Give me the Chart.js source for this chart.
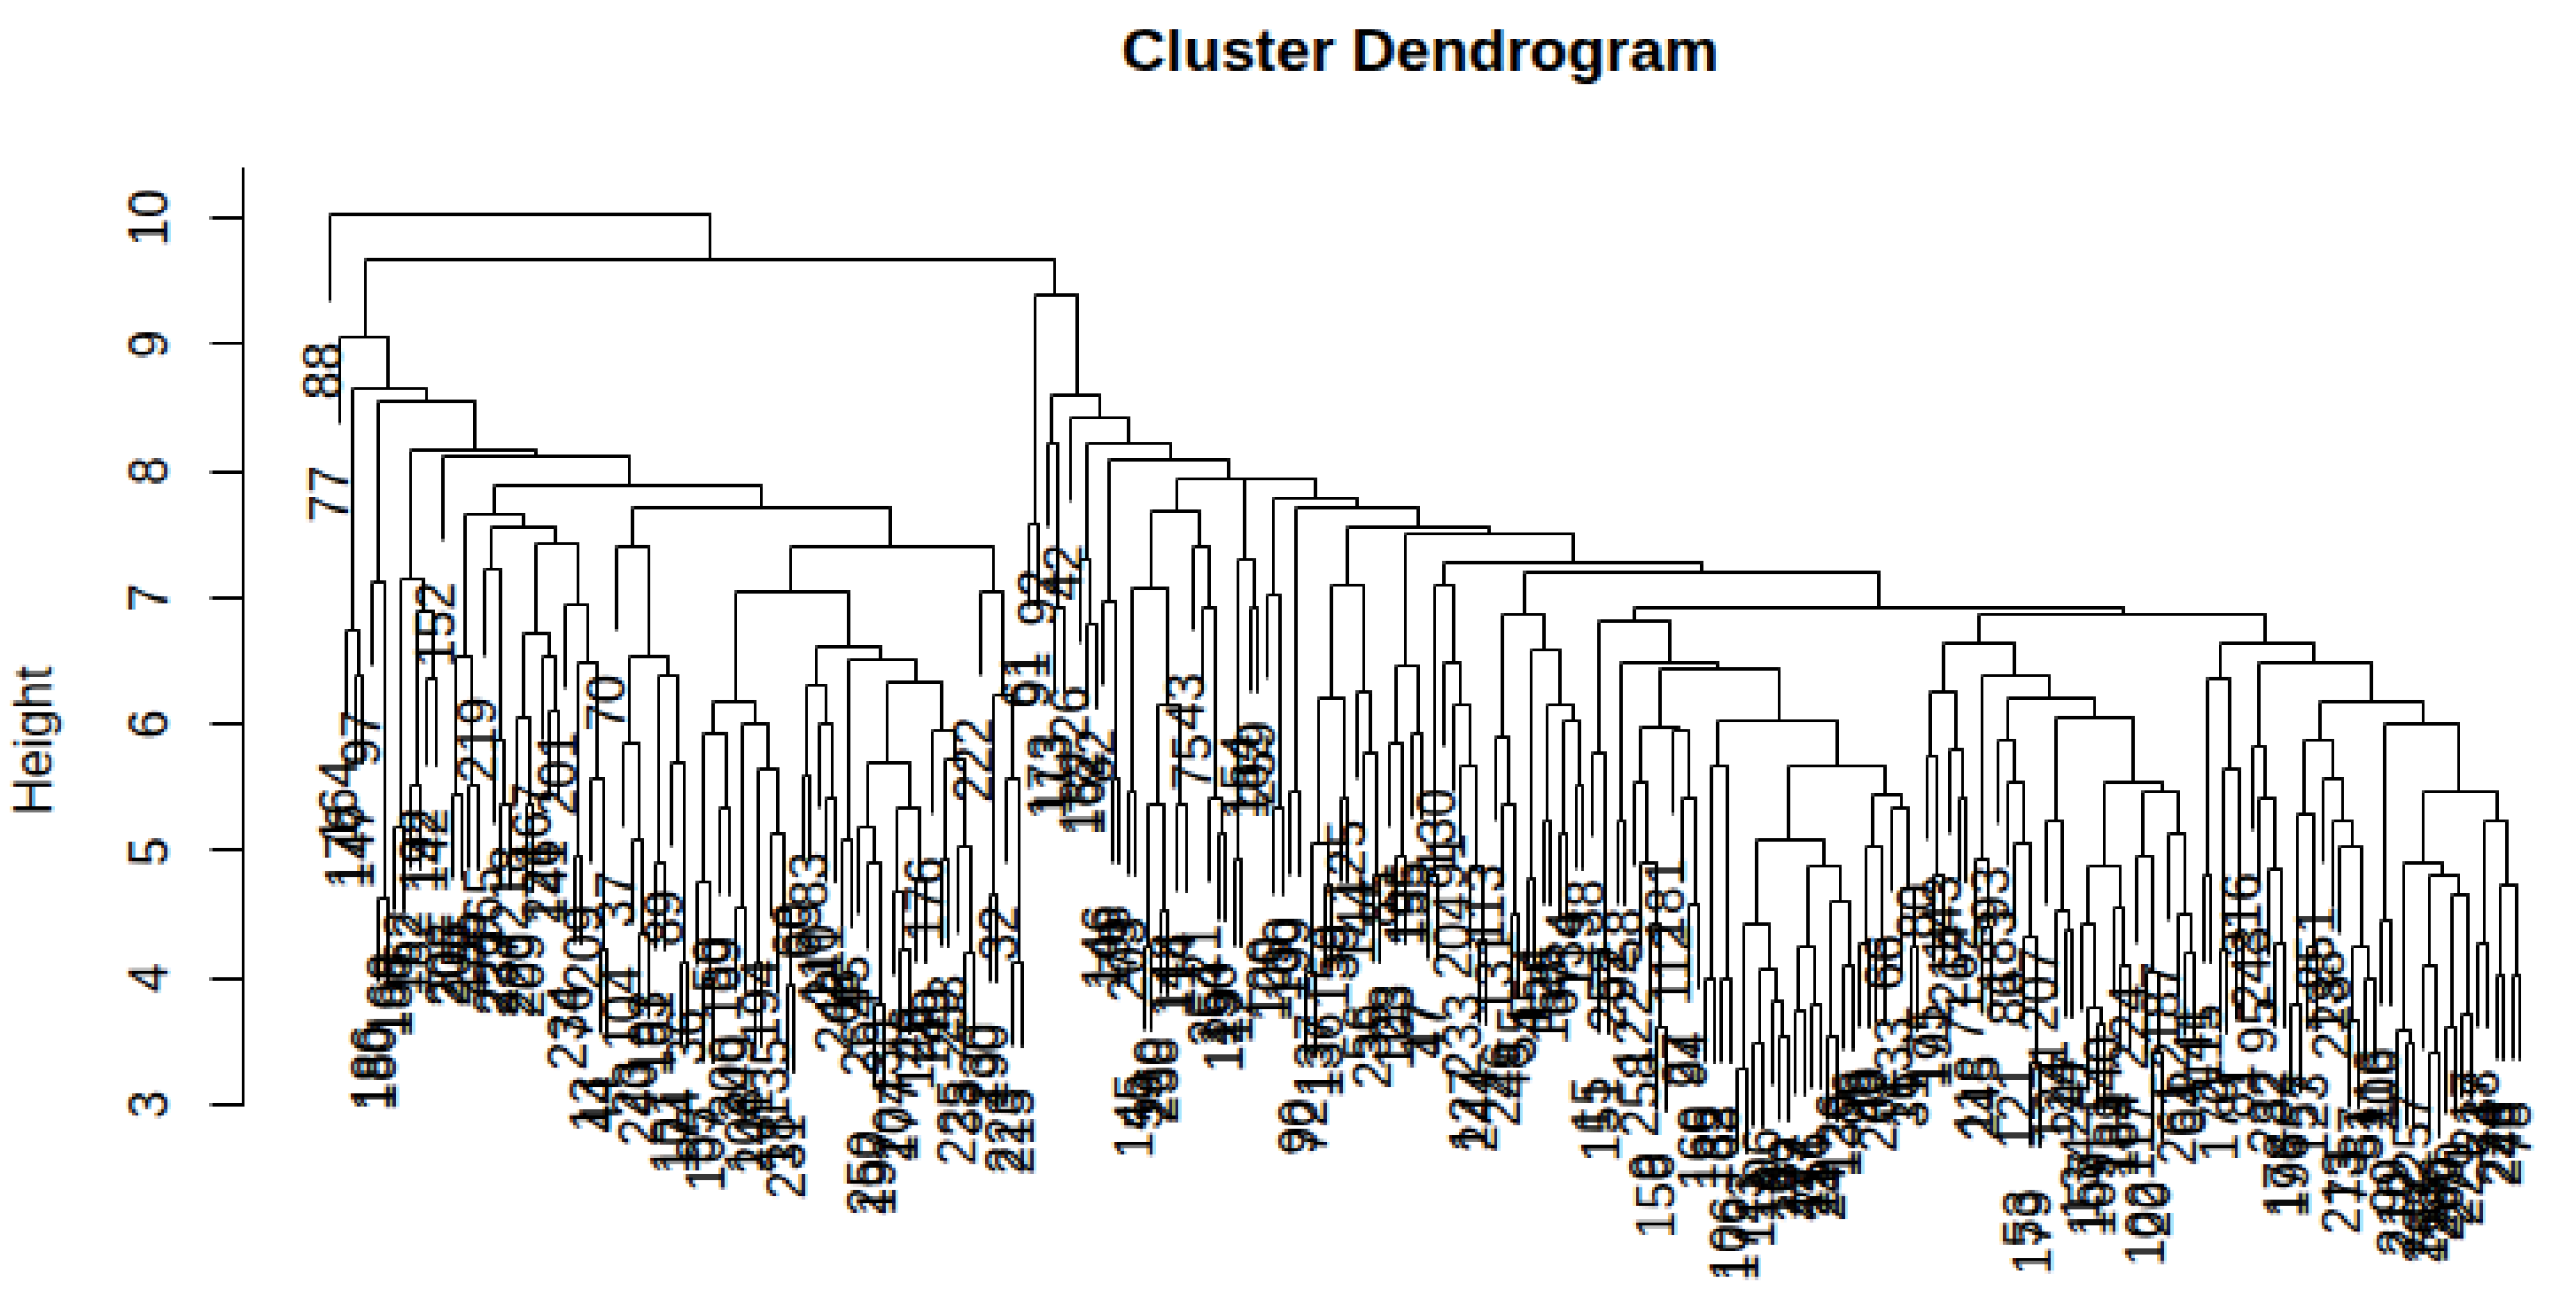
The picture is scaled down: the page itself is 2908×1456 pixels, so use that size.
<!DOCTYPE html>
<html>
<head>
<meta charset="utf-8">
<title>Cluster Dendrogram</title>
<script src="https://cdn.jsdelivr.net/npm/chart.js@4/dist/chart.umd.min.js"></script>
<style>
html,body{margin:0;padding:0;background:#fff;overflow:hidden;width:2908px;height:1456px}
#c{position:absolute;left:0;top:0;transform-origin:0 0;transform:scale(3.635,3.64);image-rendering:pixelated}
</style>
</head>
<body>
<canvas id="c" width="800" height="400"></canvas>
<script>
const chartTitle = 'Cluster Dendrogram';
const yAxisTitle = 'Height';
const yTickValues = [3,4,5,6,7,8,9,10];
const leafHang = 0.67;

// Leaf labels, left to right
const leafLabels = [
'88','77','164','176','147','97','186','180','168','188',
'162','182','192','142','152','208','205','255','185','219',
'165','229','237','218','220','209','167','226','141','201',
'234','76','209','13','44','70','37','104','23','240',
'193','161','89','101','174','36','35','107','50','169',
'200','249','108','241','194','135','18','231','60','65',
'83','110','211','242','68','45','264','250','197','30',
'204','177','46','128','176','149','29','253','225','33',
'222','230','190','32','223','215','61','91','92','173',
'113','42','26','182','162','82','146','198','79','203',
'145','59','260','238','148','114','43','75','21','254',
'150','129','12','154','162','259','120','105','100','199',
'90','72','137','136','159','39','125','144','56','235',
'85','28','103','195','155','17','47','130','91','204',
'233','127','244','113','131','246','48','55','4','154',
'25','158','67','34','119','38','15','151','252','92',
'58','122','258','9','156','181','112','27','94','160',
'5','132','63','106','172','3','111','96','8','10',
'49','227','171','256','11','24','126','139','6','98',
'40','202','66','133','16','31','80','175','191','143',
'214','62','71','118','245','93','183','86','121','53',
'179','207','1','124','14','247','134','157','109','140',
'189','184','224','117','102','20','187','52','261','64',
'41','115','2','170','7','81','216','243','95','232',
'82','178','196','57','123','251','138','228','213','73',
'87','51','116','206','99','210','212','257','263','153',
'236','269','270','221','217','38','74','226','248','78'
];

// Merge heights as nested branches: [height, left, right]; 0 is the next leaf.
const branchG1 = [6.73,0,[6.38,0,0]];
const branchG2 = [7.12,0,[4.63,0,0]];
const branchG3 = [7.15,[5.2,0,0],[6.9,[5.53,0,0],[6.35,0,0]]];
const branchG4 = [7.65,[6.55,[5.45,0,0],[5.53,0,0]],[7.55,[7.22,0,[5.88,0,[5.38,0,0]]],[7.43,[6.72,[6.05,0,[5.36,0,0]],[6.55,0,[6.1,0,0]]],[6.95,0,[6.5,[4.95,0,0],[5.58,0,[4.23,0,0]]]]]]];
const branchG5 = [7.40,0,[6.55,[5.85,0,[5.10,0,[4.35,0,0]]],[6.38,[4.9,0,0],[5.7,0,[4.13,0,0]]]]];
const branchG6 = [6.18,[5.93,[4.76,0,[3.99,0,0]],[5.33,0,0]],[6.0,[4.55,0,0],[5.66,[4.13,0,0],[5.15,0,[4.53,0,[3.93,0,0]]]]]];
const branchG7 = [6.61,[6.31,[5.6,0,0],[6.0,0,[5.43,0,0]]],[6.51,[5.08,0,0],[6.33,[5.70,[5.18,0,[4.9,0,[3.8,0,0]]],[5.35,[4.68,0,[4.22,0,0]],[4.78,0,0]]],[5.96,0,[5.73,[4.93,0,0],[5.03,0,[4.2,0,0]]]]]]];
const branchG8 = [7.40,[7.06,branchG6,branchG7],[7.06,0,[6.23,[4.65,0,0],[5.58,0,[4.13,0,0]]]]];
const branchA = [9.05,0,[8.65,branchG1,[8.54,branchG2,[8.18,branchG3,[8.13,0,[7.90,branchG4,[7.70,branchG5,branchG8]]]]]]];

const branchM = [6.88,[5.9,0,[5.38,0,[4.5,0,0]]],[6.6,[4.78,0,0],[6.15,[5.25,0,0],[6.03,[5.15,0,0],[5.53,0,0]]]]];
const branchQ = [5.67,[5.1,[4.43,[3.28,0,0],[4.07,[3.48,0,0],[3.82,0,[3.53,0,0]]]],[4.88,[4.26,[3.75,0,0],[3.79,0,0]],[4.61,[3.53,0,0],[4.1,0,0]]]],[5.45,[5.03,[4.28,0,0],[4.3,0,0]],[5.35,0,[4.7,0,[4.26,0,0]]]]];
const branchN = [6.83,[5.78,0,[4.22,0,0]],[6.5,[5.25,0,0],[6.43,[5.98,[5.55,0,[4.92,0,[4.42,0,[3.62,0,0]]]],[5.95,0,[5.43,0,[4.58,0,0]]]],[6.03,[5.67,[4.0,0,0],[4.0,0,0]],branchQ]]]];
const branchR = [6.63,[6.25,[5.75,0,[4.8,0,0]],[5.81,0,[5.43,0,0]]],[6.38,[4.93,0,[4.39,0,0]],[6.22,[5.88,0,[5.55,0,[5.07,0,[4.32,0,[3.33,0,0]]]]],[6.05,[5.25,0,[4.52,0,[4.37,0,0]]],[5.55,[4.88,[4.42,0,[3.76,0,[3.63,0,0]]],[4.55,0,[4.1,0,0]]],[5.48,[4.95,0,[4.05,0,[3.4,0,0]]],[5.13,0,[4.5,0,[4.2,0,0]]]]]]]]];
const branchS = [6.63,[6.35,[4.8,0,0],[5.65,[4.23,0,0],[4.33,0,0]]],[6.48,[5.83,0,[5.41,0,[4.85,0,[4.28,0,0]]]],[6.18,[5.88,[5.28,[3.78,0,0],[4.25,0,0]],[5.57,0,[5.23,0,[5.03,0,[4.25,[3.65,0,0],[4.0,0,0]]]]]],[6.0,[4.45,0,0],[5.48,[4.9,[3.58,0,[3.48,0,0]],[4.8,[4.1,0,[3.42,0,0]],[4.65,[3.6,0,0],[3.72,0,0]]]],[5.23,[4.28,0,0],[4.73,[4.03,0,0],[4.03,0,0]]]]]]]];
const branchK = [7.57,[7.10,[6.2,[5.05,[4.05,0,0],[4.73,0,0]],[5.43,0,0]],[6.25,0,[5.78,0,[4.8,0,0]]]],[7.50,[6.45,[5.85,0,[4.95,0,0]],[5.93,0,0]],[7.28,[7.11,[4.82,0,0],[6.5,0,[6.15,0,[5.67,0,[4.88,0,[4.3,0,0]]]]]],[7.20,branchM,[6.92,branchN,[6.87,branchR,branchS]]]]]];
const branchH1 = [7.68,[7.08,[5.48,0,0],[6.15,[5.36,[4.25,0,0],[4.53,0,0]],[5.36,0,0]]],[7.41,0,[6.93,0,[5.43,0,[5.13,0,0]]]]];
const branchH2 = [7.93,[7.3,[4.93,0,0],[6.93,0,0]],[7.78,[7.03,0,[5.33,0,0]],[7.70,[5.48,0,0],branchK]]];
const branchB = [9.38,[7.58,0,0],[8.61,[8.23,0,[6.93,0,0]],[8.43,0,[8.23,[7.31,0,[6.8,0,0]],[8.10,[6.98,0,[5.58,0,0]],[7.95,branchH1,branchH2]]]]]];
const treeRoot = [10.02,0,[9.66,branchA,branchB]];

// Walk the tree: each merge becomes one scatter line, each leaf gets a label.
const mergeLines = [];
const leaves = [];
function walk(node){
  if(node === 0){
    const i = leaves.length + 1;
    leaves.push({x:i, text:leafLabels[i-1] ?? ''});
    return {x:i, y:null, leaf:true};
  }
  const l = walk(node[1]), r = walk(node[2]), h = node[0];
  const lb = l.leaf ? h - leafHang : l.y, rb = r.leaf ? h - leafHang : r.y;
  if(l.leaf) leaves[l.x-1].y = lb;
  if(r.leaf) leaves[r.x-1].y = rb;
  mergeLines.push([{x:l.x,y:lb},{x:l.x,y:h},{x:r.x,y:h},{x:r.x,y:rb}]);
  return {x:(l.x+r.x)/2, y:h, leaf:false};
}
walk(treeRoot);
if(leaves.length !== leafLabels.length) console.error('leaf count', leaves.length, leafLabels.length);

const canvas = document.getElementById('c');
const ctx0 = canvas.getContext('2d',{alpha:false});

const dendroPlugin = {
  id:'dendro',
  beforeDraw(chart){
    const c = chart.ctx; c.save(); c.fillStyle='#fff'; c.fillRect(0,0,chart.width,chart.height); c.restore();
  },
  afterLayout(chart){
    // The title sits a little right of the canvas centre.
    if(chart.titleBlock){ chart.titleBlock.left += 92; }
  },
  afterDatasetsUpdate(chart){
    // Snap to the device pixel grid, as the R device does.
    chart.data.datasets.forEach((d,i)=>{
      chart.getDatasetMeta(i).data.forEach(p=>{ p.x = Math.floor(p.x)+0.5; p.y = Math.floor(p.y)+0.5; });
    });
  },
  afterDatasetsDraw(chart){
    const c = chart.ctx, xs = chart.scales.x, ys = chart.scales.y;
    c.save();
    c.fillStyle='#000';
    c.font='16px "Liberation Sans", Arial, sans-serif';
    c.textAlign='right'; c.textBaseline='middle';
    leaves.forEach(l=>{
      c.save();
      c.translate(xs.getPixelForValue(l.x)-1.3, ys.getPixelForValue(l.y)+13);
      c.rotate(-Math.PI/2);
      c.fillText(l.text,0,0);
      c.restore();
    });
    c.save();
    c.translate(16.2, 229.7);
    c.rotate(-Math.PI/2);
    c.textAlign='center'; c.textBaseline='alphabetic';
    c.fillText(yAxisTitle,0,0);
    c.restore();
    c.restore();
  }
};

new Chart(canvas,{
  type:'scatter',
  data:{datasets:mergeLines.map(pts=>({
    data:pts, showLine:true, borderColor:'#000', borderWidth:1, pointRadius:0, pointHoverRadius:0,
    tension:0, clip:false, fill:false, borderCapStyle:'butt', borderJoinStyle:'miter'
  }))},
  options:{
    responsive:false, animation:false, devicePixelRatio:1, events:[],
    layout:{padding:{left:0,right:10,top:0,bottom:57.5}},
    plugins:{
      legend:{display:false}, tooltip:{enabled:false},
      title:{display:true,text:chartTitle,color:'#000',fullSize:true,
        font:{family:'"Liberation Sans", Arial, sans-serif',size:19.2,weight:'bold',lineHeight:1.2},
        padding:{top:4.8,bottom:24.4}}
    },
    scales:{
      x:{type:'linear',display:false,min:-9.92,max:272.93},
      y:{type:'linear',min:3,max:10.39,
        afterFit(s){ s.width = 75; },
        afterBuildTicks(s){ s.ticks = yTickValues.map(v=>({value:v})); },
        grid:{drawOnChartArea:false,color:'#000',lineWidth:1,tickLength:9.5,tickColor:'#000'},
        border:{display:true,color:'#000',width:1},
        ticks:{color:'#000',padding:9,minRotation:90,maxRotation:90,crossAlign:'center',
          font:{family:'"Liberation Sans", Arial, sans-serif',size:16}}
      }
    }
  },
  plugins:[dendroPlugin]
});
</script>
</body>
</html>
